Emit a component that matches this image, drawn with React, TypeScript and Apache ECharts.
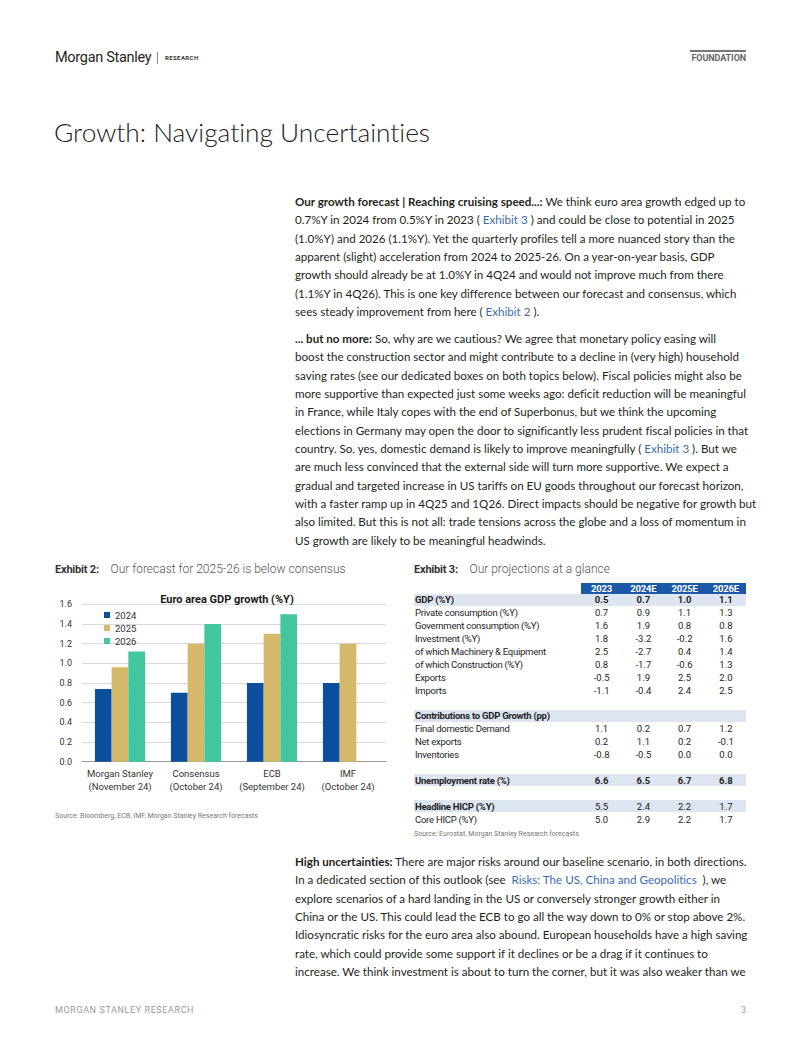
import React, { useEffect, useRef } from "react";
import * as echarts from "echarts";

// ---------- data ----------
const categories = ["Morgan Stanley\n(November 24)", "Consensus\n(October 24)", "ECB\n(September 24)", "IMF\n(October 24)"];
const seriesNames = ["2024", "2025", "2026"];
const s2024 = [0.74, 0.7, 0.8, 0.8];
const s2025 = [0.96, 1.2, 1.3, 1.2];
const s2026: (number | null)[] = [1.12, 1.4, 1.5, null];
const yTicks = { min: 0, max: 1.6, interval: 0.2 };

const tableYears = ["2023", "2024E", "2025E", "2026E"];
type Row = { label: string; values?: string[]; bold?: boolean; boldValues?: boolean; shade?: boolean; blank?: boolean };
const tableRows: Row[] = [
  { label: "GDP (%Y)", values: ["0.5", "0.7", "1.0", "1.1"], bold: true, boldValues: true, shade: true },
  { label: "Private consumption (%Y)", values: ["0.7", "0.9", "1.1", "1.3"] },
  { label: "Government consumption (%Y)", values: ["1.6", "1.9", "0.8", "0.8"] },
  { label: "Investment (%Y)", values: ["1.8", "-3.2", "-0.2", "1.6"] },
  { label: "of which Machinery & Equipment", values: ["2.5", "-2.7", "0.4", "1.4"] },
  { label: "of which Construction (%Y)", values: ["0.8", "-1.7", "-0.6", "1.3"] },
  { label: "Exports", values: ["-0.5", "1.9", "2.5", "2.0"] },
  { label: "Imports", values: ["-1.1", "-0.4", "2.4", "2.5"] },
  { label: "", blank: true },
  { label: "Contributions to GDP Growth (pp)", bold: true, shade: true },
  { label: "Final domestic Demand", values: ["1.1", "0.2", "0.7", "1.2"] },
  { label: "Net exports", values: ["0.2", "1.1", "0.2", "-0.1"] },
  { label: "Inventories", values: ["-0.8", "-0.5", "0.0", "0.0"] },
  { label: "", blank: true },
  { label: "Unemployment rate (%)", values: ["6.6", "6.5", "6.7", "6.8"], bold: true, boldValues: true, shade: true },
  { label: "", blank: true },
  { label: "Headline HICP (%Y)", values: ["5.5", "2.4", "2.2", "1.7"], bold: true, shade: true },
  { label: "Core HICP (%Y)", values: ["5.0", "2.9", "2.2", "1.7"] },
];

// body text: segments [text, kind] kind: n normal, b bold, l link
type Seg = [string, "n" | "b" | "l"];
const para1: Seg[][] = [
  [["Our growth forecast | Reaching cruising speed...:", "b"], [" We think euro area growth edged up to", "n"]],
  [["0.7%Y in 2024 from 0.5%Y in 2023 ( ", "n"], ["Exhibit 3", "l"], [" ) and could be close to potential in 2025", "n"]],
  [["(1.0%Y) and 2026 (1.1%Y). Yet the quarterly profiles tell a more nuanced story than the", "n"]],
  [["apparent (slight) acceleration from 2024 to 2025-26. On a year-on-year basis, GDP", "n"]],
  [["growth should already be at 1.0%Y in 4Q24 and would not improve much from there", "n"]],
  [["(1.1%Y in 4Q26). This is one key difference between our forecast and consensus, which", "n"]],
  [["sees steady improvement from here ( ", "n"], ["Exhibit 2", "l"], [" ).", "n"]],
];
const para2: Seg[][] = [
  [["... but no more:", "b"], [" So, why are we cautious? We agree that monetary policy easing will", "n"]],
  [["boost the construction sector and might contribute to a decline in (very high) household", "n"]],
  [["saving rates (see our dedicated boxes on both topics below). Fiscal policies might also be", "n"]],
  [["more supportive than expected just some weeks ago: deficit reduction will be meaningful", "n"]],
  [["in France, while Italy copes with the end of Superbonus, but we think the upcoming", "n"]],
  [["elections in Germany may open the door to significantly less prudent fiscal policies in that", "n"]],
  [["country. So, yes, domestic demand is likely to improve meaningfully ( ", "n"], ["Exhibit 3", "l"], [" ). But we", "n"]],
  [["are much less convinced that the external side will turn more supportive. We expect a", "n"]],
  [["gradual and targeted increase in US tariffs on EU goods throughout our forecast horizon,", "n"]],
  [["with a faster ramp up in 4Q25 and 1Q26. Direct impacts should be negative for growth but", "n"]],
  [["also limited. But this is not all: trade tensions across the globe and a loss of momentum in", "n"]],
  [["US growth are likely to be meaningful headwinds.", "n"]],
];
const para3: Seg[][] = [
  [["High uncertainties:", "b"], [" There are major risks around our baseline scenario, in both directions.", "n"]],
  [["In a dedicated section of this outlook (see  ", "n"], ["Risks: The US, China and Geopolitics", "l"], ["  ), we", "n"]],
  [["explore scenarios of a hard landing in the US or conversely stronger growth either in", "n"]],
  [["China or the US. This could lead the ECB to go all the way down to 0% or stop above 2%.", "n"]],
  [["Idiosyncratic risks for the euro area also abound. European households have a high saving", "n"]],
  [["rate, which could provide some support if it declines or be a drag if it continues to", "n"]],
  [["increase. We think investment is about to turn the corner, but it was also weaker than we", "n"]],
];

const LINE = 18.33;
const bodyFont = "Lato, 'Noto Sans', sans-serif";
const condFont = "Roboto, 'Noto Sans', sans-serif";

function Para({ lines, top }: { lines: Seg[][]; top: number }) {
  return (
    <>
      {lines.map((segs, i) => (
        <div
          key={i}
          style={{
            position: "absolute",
            left: 295,
            width: 600,
            top: top + i * LINE - LINE / 2,
            height: LINE,
            lineHeight: LINE + "px",
            whiteSpace: "pre",
            fontFamily: bodyFont,
            fontSize: 11.6,
            fontVariantLigatures: "none",
            color: "#231f20",
          }}
        >
          {segs.map(([t, k], j) => (
            <span key={j} style={{ fontWeight: k === "b" ? 700 : 400, color: k === "l" ? "#3a6cb4" : "#231f20" }}>
              {t}
            </span>
          ))}
        </div>
      ))}
    </>
  );
}

function BarChart() {
  const ref = useRef<HTMLDivElement>(null);
  useEffect(() => {
    if (!ref.current) return;
    const chart = echarts.init(ref.current, null, { renderer: "svg" });
    const colors = ["#0b4f9e", "#d4b96b", "#41c6a0"];
    const data = [s2024, s2025, s2026];
    chart.setOption({
      animation: false,
      title: {
        text: "Euro area GDP growth (%Y)",
        left: 167,
        top: 4,
        textAlign: "center",
        textStyle: { fontFamily: condFont, fontSize: 11, fontWeight: "bold", color: "#1a1a1a" },
      },
      legend: {
        orient: "vertical",
        left: 44,
        top: 20,
        itemWidth: 6,
        itemHeight: 6,
        itemGap: 3,
        icon: "rect",
        textStyle: { fontFamily: condFont, fontSize: 9.5, color: "#333", lineHeight: 10 },
        data: seriesNames,
      },
      grid: { left: 27, right: 9, top: 19.3, bottom: 38.3, containLabel: false },
      xAxis: {
        type: "category",
        data: categories,
        axisLine: { lineStyle: { color: "#9a9a9a", width: 1 } },
        axisTick: { show: false },
        axisLabel: { fontFamily: condFont, fontSize: 9.5, color: "#333", lineHeight: 13, margin: 5, interval: 0 },
      },
      yAxis: {
        type: "value",
        min: yTicks.min,
        max: yTicks.max,
        interval: yTicks.interval,
        axisLine: { show: false },
        axisTick: { show: false },
        axisLabel: { fontFamily: condFont, fontSize: 9, color: "#333", margin: 10, formatter: (v: number) => v.toFixed(1) },
        splitLine: { lineStyle: { color: "#d9d9d9", width: 1 } },
      },
      series: seriesNames.map((n, i) => ({
        name: n,
        type: "bar",
        data: data[i],
        barGap: "0%",
        barCategoryGap: "34%",
        itemStyle: { color: colors[i] },
      })),
    });
    return () => chart.dispose();
  }, []);
  return <div ref={ref} style={{ position: "absolute", left: 55, top: 585, width: 340, height: 215 }} />;
}

function Table() {
  const rowPitch = 12.9;
  const firstCenter = 599.7;
  const colCenters = [601.6, 643.4, 684.6, 725.9];
  return (
    <>
      <div style={{ position: "absolute", left: 581, top: 582.5, width: 165, height: 11, background: "#1b58a8" }} />
      {tableYears.map((y, i) => (
        <div
          key={y}
          style={{
            position: "absolute",
            left: colCenters[i] - 25,
            width: 50,
            top: 582.5,
            height: 11,
            lineHeight: "11px",
            textAlign: "center",
            color: "#fff",
            fontWeight: 700,
            fontFamily: condFont,
            fontSize: 9.5,
            letterSpacing: -0.2,
          }}
        >
          {y}
        </div>
      ))}
      {tableRows.map((r, i) => {
        const c = firstCenter + i * rowPitch;
        if (r.blank) return null;
        return (
          <React.Fragment key={i}>
            {r.shade && (
              <div style={{ position: "absolute", left: 414, top: c - 6.2, width: 332, height: 12, background: "#dde5f0" }} />
            )}
            <div
              style={{
                position: "absolute",
                left: 415,
                top: c - 6.5,
                height: 13,
                lineHeight: "13px",
                whiteSpace: "pre",
                fontFamily: condFont,
                fontSize: 9.5,
                letterSpacing: -0.25,
                fontWeight: r.bold ? 700 : 400,
                color: "#1e1e1e",
              }}
            >
              {r.label}
            </div>
            {r.values &&
              r.values.map((v, j) => (
                <div
                  key={j}
                  style={{
                    position: "absolute",
                    left: colCenters[j] - 20,
                    width: 40,
                    top: c - 6.5,
                    height: 13,
                    lineHeight: "13px",
                    textAlign: "center",
                    fontFamily: condFont,
                    fontSize: 9.5,
                    fontWeight: r.boldValues ? 700 : 400,
                    color: "#1e1e1e",
                  }}
                >
                  {v}
                </div>
              ))}
          </React.Fragment>
        );
      })}
    </>
  );
}

export default function App() {
  return (
    <div style={{ position: "absolute", left: 0, top: 0, width: 802, height: 1037, background: "#fff", overflow: "hidden" }}>
      {/* header */}
      <div style={{ position: "absolute", left: 55, top: 48, fontFamily: condFont, fontSize: 14.5, color: "#1f1f1f", letterSpacing: -0.3, lineHeight: "20px" }}>
        Morgan Stanley
      </div>
      <div style={{ position: "absolute", left: 157, top: 52, width: 1, height: 12, background: "#888" }} />
      <div style={{ position: "absolute", left: 165, top: 53, fontFamily: condFont, fontSize: 6, fontWeight: 700, letterSpacing: 0.4, color: "#333", lineHeight: "10px" }}>
        RESEARCH
      </div>
      <div style={{ position: "absolute", left: 690, top: 50, width: 56, height: 2, background: "#777" }} />
      <div style={{ position: "absolute", left: 690, top: 53, width: 56, textAlign: "right", fontFamily: condFont, fontSize: 9, fontWeight: 700, color: "#666", lineHeight: "11px", letterSpacing: -0.1 }}>
        FOUNDATION
      </div>

      {/* title */}
      <div style={{ position: "absolute", left: 54, top: 116, fontFamily: bodyFont, fontWeight: 300, fontSize: 26.3, color: "#222", lineHeight: "32px", whiteSpace: "pre", fontVariantLigatures: "none" }}>
        Growth: Navigating Uncertainties
      </div>

      <Para lines={para1} top={202.3} />
      <Para lines={para2} top={339.3} />
      <Para lines={para3} top={862.3} />

      {/* exhibit headings */}
      <div style={{ position: "absolute", left: 55, top: 560, whiteSpace: "pre", lineHeight: "15px" }}>
        <span style={{ fontFamily: condFont, fontWeight: 700, fontSize: 11, color: "#333", letterSpacing: -0.2 }}>Exhibit 2:</span>
        <span style={{ fontFamily: condFont, fontWeight: 300, fontSize: 12, color: "#555" }}>{"    Our forecast for 2025-26 is below consensus"}</span>
      </div>
      <div style={{ position: "absolute", left: 414, top: 560, whiteSpace: "pre", lineHeight: "15px" }}>
        <span style={{ fontFamily: condFont, fontWeight: 700, fontSize: 11, color: "#333", letterSpacing: -0.2 }}>Exhibit 3:</span>
        <span style={{ fontFamily: condFont, fontWeight: 300, fontSize: 12, color: "#555" }}>{"    Our projections at a glance"}</span>
      </div>

      <BarChart />
      <Table />

      {/* sources */}
      <div style={{ position: "absolute", left: 55, top: 811, fontFamily: condFont, fontSize: 7, color: "#777", lineHeight: "10px", whiteSpace: "pre" }}>
        Source: Bloomberg, ECB, IMF, Morgan Stanley Research forecasts
      </div>
      <div style={{ position: "absolute", left: 414, top: 829, fontFamily: condFont, fontSize: 7, color: "#777", lineHeight: "10px", whiteSpace: "pre" }}>
        Source: Eurostat, Morgan Stanley Research forecasts
      </div>

      {/* footer */}
      <div style={{ position: "absolute", left: 55, top: 1004, fontFamily: condFont, fontSize: 9, color: "#9a9a9a", letterSpacing: 0.6, lineHeight: "12px" }}>
        MORGAN STANLEY RESEARCH
      </div>
      <div style={{ position: "absolute", left: 736, top: 1004, width: 10, textAlign: "right", fontFamily: condFont, fontSize: 9, color: "#9a9a9a", lineHeight: "12px" }}>
        3
      </div>
    </div>
  );
}
